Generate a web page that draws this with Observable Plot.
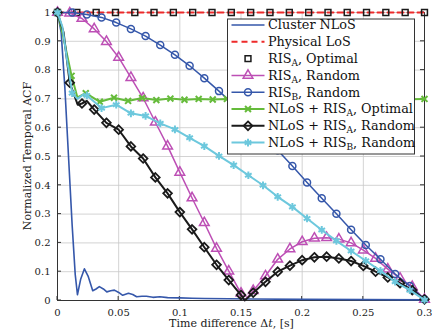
<!DOCTYPE html>
<html><head><meta charset="utf-8">
<script src="https://cdn.jsdelivr.net/npm/d3@7"></script>
<script src="https://cdn.jsdelivr.net/npm/@observablehq/plot@0.6"></script>
<style>html,body{margin:0;padding:0;background:#fff}</style>
</head><body><div id="chart"></div>
<script>
// ---------- data ----------
const seriesNames = ["Cluster NLoS", "Physical LoS", "RIS_A, Optimal", "RIS_A, Random", "RIS_B, Random",
  "NLoS + RIS_A, Optimal", "NLoS + RIS_A, Random", "NLoS + RIS_B, Random"];
const xTicks = [0, 0.05, 0.1, 0.15, 0.2, 0.25, 0.3];
const yTicks = [0, 0.1, 0.2, 0.3, 0.4, 0.5, 0.6, 0.7, 0.8, 0.9, 1];
const xLabel = "Time difference Δt, [s]";
const yLabel = "Normalized Temporal ACF";

const nlosT = [0,0.003,0.006,0.009,0.012,0.0145,0.0163,0.019,0.022,0.025,0.0288,0.0315,0.0342,0.0375,0.0403,0.0435,0.0465,0.05,0.0533,0.058,0.0615,0.0647,0.069,0.0727,0.078,0.0837,0.09,0.1,0.11,0.12,0.14,0.16,0.2,0.25,0.3];
const nlosV = [1,0.93,0.74,0.5,0.26,0.09,0.02,0.075,0.11,0.085,0.034,0.04,0.048,0.04,0.03,0.034,0.036,0.028,0.018,0.025,0.021,0.013,0.015,0.015,0.011,0.013,0.01,0.009,0.008,0.007,0.006,0.005,0.004,0.003,0.002];

const losT = [0, 0.3];
const losV = [1, 1];

const risAOptT = [0,0.0158,0.0316,0.0474,0.0632,0.0789,0.0947,0.1105,0.1263,0.1421,0.1579,0.1737,0.1895,0.2053,0.2211,0.2368,0.2526,0.2684,0.2842,0.3];
const risAOptV = [1,1,1,1,1,1,1,1,1,1,1,1,1,1,1,1,1,1,1,1];

const risARandT = [0,0.01,0.02,0.03,0.04,0.05,0.06,0.07,0.08,0.09,0.1,0.11,0.12,0.13,0.14,0.15,0.153,0.16,0.17,0.18,0.19,0.2,0.21,0.22,0.23,0.24,0.25,0.26,0.27,0.28,0.29,0.3];
const risARandV = [1,0.998,0.979,0.943,0.899,0.844,0.774,0.703,0.619,0.536,0.445,0.356,0.27,0.181,0.102,0.025,0,0.034,0.085,0.143,0.179,0.204,0.216,0.218,0.213,0.2,0.175,0.146,0.109,0.077,0.048,0.004];

const risBRandT = [0,0.012,0.024,0.036,0.048,0.06,0.072,0.084,0.096,0.108,0.12,0.132,0.144,0.156,0.168,0.18,0.192,0.204,0.216,0.228,0.24,0.252,0.264,0.276,0.288,0.3];
const risBRandV = [1,1,0.993,0.983,0.965,0.943,0.918,0.887,0.853,0.815,0.772,0.727,0.68,0.63,0.578,0.522,0.467,0.41,0.355,0.301,0.246,0.193,0.143,0.092,0.05,0.004];

const nlosAOptT = [0,0.004,0.008,0.0115,0.0163,0.0231,0.0346,0.0462,0.0577,0.0692,0.0808,0.0923,0.1038,0.1154,0.1269,0.1385,0.15,0.1615,0.1731,0.1846,0.1962,0.2077,0.2192,0.2308,0.2423,0.2538,0.2654,0.2769,0.2885,0.3];
const nlosAOptV = [1,0.93,0.85,0.78,0.705,0.72,0.69,0.704,0.693,0.703,0.696,0.701,0.697,0.7,0.698,0.7,0.699,0.699,0.7,0.699,0.7,0.698,0.7,0.699,0.7,0.699,0.699,0.7,0.699,0.7];

const nlosARandT = [0,0.005,0.01,0.0165,0.02,0.024,0.03,0.04,0.05,0.06,0.07,0.08,0.09,0.1,0.11,0.12,0.13,0.14,0.15,0.153,0.16,0.17,0.18,0.19,0.2,0.21,0.22,0.23,0.24,0.25,0.26,0.27,0.28,0.29,0.3];
const nlosARandV = [1,0.93,0.756,0.68,0.684,0.693,0.663,0.617,0.593,0.535,0.493,0.4275,0.372,0.307,0.247,0.185,0.124,0.071,0.019,0,0.027,0.065,0.1,0.121,0.14,0.15,0.152,0.146,0.137,0.12,0.1,0.08,0.06,0.036,0.004];

const nlosBRandT = [0,0.004,0.008,0.012,0.0163,0.021,0.024,0.036,0.048,0.06,0.072,0.084,0.096,0.108,0.12,0.132,0.144,0.156,0.168,0.18,0.192,0.204,0.216,0.228,0.24,0.252,0.264,0.276,0.288,0.3];
const nlosBRandV = [1,0.95,0.83,0.72,0.70,0.715,0.712,0.668,0.68,0.65,0.641,0.615,0.594,0.565,0.536,0.502,0.47,0.435,0.4,0.36,0.325,0.285,0.245,0.207,0.172,0.138,0.103,0.065,0.036,0.002];

// ---------- styles ----------
const styles = [
  {t: nlosT, v: nlosV, color: "#3557aa", w: 1.6, dash: null, symbol: null, step: null, line: true},
  {t: losT, v: losV, color: "#ee2a2a", w: 2, dash: "6,4", symbol: null, step: null, line: true},
  {t: risAOptT, v: risAOptV, color: "#1a1a1a", w: 1.5, dash: null, symbol: "square", r: 3.3, step: 0.3/19, line: false},
  {t: risARandT, v: risARandV, color: "#bd4fb5", w: 1.5, dash: null, symbol: "triangle", r: 3.6, step: 0.01, line: true},
  {t: risBRandT, v: risBRandV, color: "#3557aa", w: 1.5, dash: null, symbol: "circle", r: 3.5, step: 0.012, line: true},
  {t: nlosAOptT, v: nlosAOptV, color: "#65bb3a", w: 2, dash: null, symbol: "times", r: 2.8, step: 0.3/26, line: true},
  {t: nlosARandT, v: nlosARandV, color: "#1a1a1a", w: 2, dash: null, symbol: "diamond2", r: 3.9, step: 0.01, line: true},
  {t: nlosBRandT, v: nlosBRandV, color: "#6dc8dd", w: 2, dash: null, symbol: "asterisk", r: 3.6, step: 0.012, line: true}
];

const series = styles.map((s, i) => ({...s, name: seriesNames[i],
  data: s.t.map((t, j) => ({t, v: s.v[j]}))}));

const onStep = (step) => (d) => {
  const k = d.t / step;
  return Math.abs(k - Math.round(k)) < 0.02 && !(d.v === 0 && d.t > 0.1 && d.t < 0.2);
};
const markerWidth = s => s.symbol === "times" || s.symbol === "asterisk" ? 2 : s.symbol === "diamond2" ? 1.8 : 1.5;

const fmt = d => d === 0 ? "0" : d === 1 ? "1" : String(d);
const FONT = "DejaVu Serif";

const marks = [
  Plot.gridX(xTicks, {stroke: "#c8c8c8", strokeOpacity: 1, strokeWidth: 0.8}),
  Plot.gridY(yTicks, {stroke: "#c8c8c8", strokeOpacity: 1, strokeWidth: 0.8}),
  Plot.ruleX([0, 0.3], {stroke: "#333333", strokeWidth: 1}),
  Plot.ruleY([0], {stroke: "#333333", strokeWidth: 1}),
  Plot.axisX(xTicks, {tickSize: 0, tickPadding: 8, tickFormat: fmt, fontSize: 10, label: null, fill: "#222"}),
  Plot.axisY(yTicks, {tickSize: 0, tickPadding: 7, tickFormat: fmt, fontSize: 10, label: null, fill: "#222"})
];
for (const s of series) {
  if (s.line) marks.push(Plot.line(s.data, {x: "t", y: "v", stroke: s.color, strokeWidth: s.w, strokeDasharray: s.dash, curve: "linear"}));
  if (s.symbol) marks.push(Plot.dot(s.data, {x: "t", y: "v", filter: onStep(s.step), symbol: s.symbol, r: s.r, stroke: s.color, fill: "none", strokeWidth: markerWidth(s)}));
}

const chart = Plot.plot({
  width: 432, height: 333,
  marginLeft: 57, marginRight: 8, marginTop: 12, marginBottom: 33,
  style: {fontFamily: FONT, fontSize: "10px", background: "#fff", overflow: "visible"},
  x: {domain: [0, 0.3]},
  y: {domain: [0, 1]},
  marks
});
document.getElementById("chart").appendChild(chart);

// ---------- post: inward ticks, labels, legend ----------
const svg = d3.select(chart);
const X = chart.scale("x"), Y = chart.scale("y");
const x0 = X.apply(0), x1 = X.apply(0.3), y0 = Y.apply(0), y1 = Y.apply(1);
const tg = svg.append("g").attr("stroke", "#333").attr("stroke-width", 1);
for (const t of xTicks) {
  const px = X.apply(t);
  tg.append("line").attr("x1", px).attr("x2", px).attr("y1", y0).attr("y2", y0 - 4);
}
for (const t of yTicks) {
  const py = Y.apply(t);
  tg.append("line").attr("x1", x0).attr("x2", x0 + 4).attr("y1", py).attr("y2", py);
  tg.append("line").attr("x1", x1).attr("x2", x1 - 4).attr("y1", py).attr("y2", py);
}
svg.selectAll("g[aria-label='line'], g[aria-label='dot']").raise();

// x label with italic t
const xl = svg.append("text").attr("x", (x0 + x1) / 2 - 9).attr("y", 327)
  .attr("text-anchor", "middle").attr("font-family", FONT).attr("font-size", 11).attr("fill", "#222");
const xm = xLabel.match(/^(.*Δ)(t)(.*)$/);
xl.append("tspan").text(xm[1]);
xl.append("tspan").attr("font-style", "italic").text(xm[2]);
xl.append("tspan").text(xm[3]);

svg.append("text").attr("transform", `translate(31,${(y0 + y1) / 2}) rotate(-90)`)
  .attr("text-anchor", "middle").attr("font-family", FONT).attr("font-size", 11).attr("fill", "#222")
  .text(yLabel);

// legend
const lg = svg.append("g").attr("text-anchor", "start");
const LX = 227.5, LY = 19, LW = 187, LH = 135;
lg.append("rect").attr("x", LX).attr("y", LY).attr("width", LW).attr("height", LH)
  .attr("fill", "#fff").attr("stroke", "#333").attr("stroke-width", 1);
const symMap = {square: d3.symbolSquare, triangle: d3.symbolTriangle, circle: d3.symbolCircle,
  times: d3.symbolTimes, diamond2: d3.symbolDiamond2, asterisk: d3.symbolAsterisk};
series.forEach((s, i) => {
  const cy = 25 + i * 16.8;
  if (s.line) lg.append("line").attr("x1", 231.5).attr("x2", 264.5).attr("y1", cy).attr("y2", cy)
    .attr("stroke", s.color).attr("stroke-width", s.w).attr("stroke-dasharray", s.dash);
  if (s.symbol) lg.append("path").attr("transform", `translate(248,${cy})`)
    .attr("d", d3.symbol(symMap[s.symbol], Math.PI * s.r * s.r)())
    .attr("fill", "none").attr("stroke", s.color).attr("stroke-width", markerWidth(s));
  const tx = lg.append("text").attr("x", 268).attr("y", cy + 4.4).attr("text-anchor", "start")
    .attr("font-family", FONT).attr("font-size", 12.8).attr("fill", "#111");
  const parts = s.name.split(/_(\w)/);
  let shift = 0;
  parts.forEach((p, k) => {
    if (!p) return;
    if (k % 2 === 1) {
      tx.append("tspan").attr("font-size", 9).attr("dy", 3).text(p);
      shift = -3;
    } else {
      const ts = tx.append("tspan").text(p);
      if (shift) { ts.attr("dy", shift); shift = 0; }
    }
  });
});
</script>
</body></html>
